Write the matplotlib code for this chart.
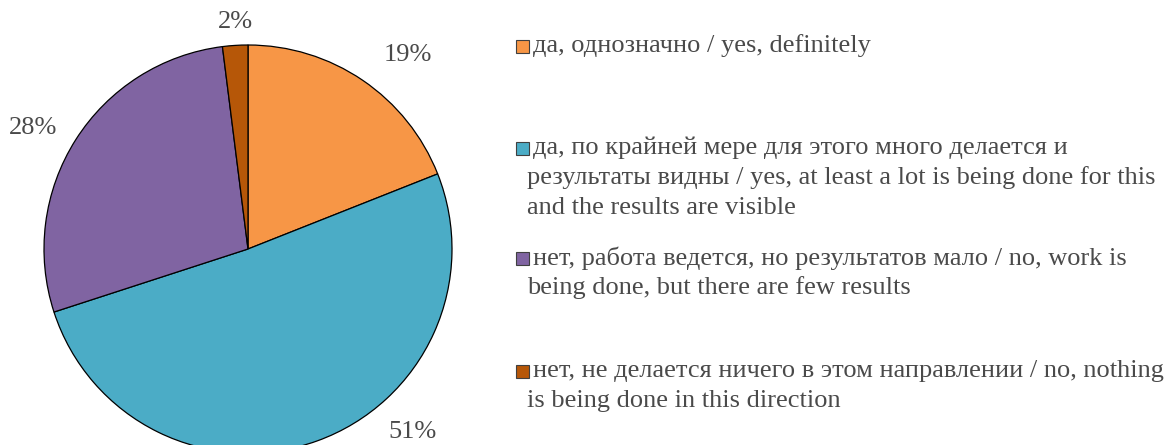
import matplotlib
matplotlib.use("Agg")
import matplotlib.pyplot as plt
from matplotlib.patches import Rectangle

plt.rcParams['font.family'] = ['Liberation Serif', 'DejaVu Serif']

# data
shares = [19, 51, 28, 2]
pct_labels = ["19%", "51%", "28%", "2%"]
colors = ["#F79646", "#4BACC6", "#8064A2", "#B65708"]
legend_items = [
    ["да, однозначно / yes, definitely"],
    ["да, по крайней мере для этого много делается и",
     "результаты видны / yes, at least a lot is being done for this",
     "and the results are visible"],
    ["нет, работа ведется, но результатов мало / no, work is",
     "being done, but there are few results"],
    ["нет, не делается ничего в этом направлении / no, nothing",
     "is being done in this direction"],
]

W, H = 1176, 445
fig = plt.figure(figsize=(W / 100, H / 100), dpi=100)
ax = fig.add_axes([0, 0, 1, 1])

txt_col = "#4a4a4a"
fs = 19

cx, cy, r = 248, H - 249, 204
wedges, _ = ax.pie(shares, colors=colors, startangle=90, counterclock=False,
                   center=(cx, cy), radius=r, frame=True,
                   wedgeprops=dict(edgecolor="black", linewidth=0.9))
ax.set_xlim(0, W)
ax.set_ylim(0, H)
ax.set_aspect("equal")
ax.axis("off")

# percentage labels (placed like Excel's outside-end labels)
label_pos = [(408, 55), (413, 432), (33, 128), (235, 22)]
for lab, (x, y) in zip(pct_labels, label_pos):
    ax.text(x, H - y, lab, ha="center", va="center", fontsize=fs, color=txt_col)

# legend
item_y = [46, 148, 258, 371]
line_h = 30
for lines, col, y0 in zip(legend_items, colors, item_y):
    ax.add_patch(Rectangle((516, H - y0 - 7), 13, 13, facecolor=col,
                           edgecolor="#404040", linewidth=0.8))
    for k, line in enumerate(lines):
        x = 533 if k == 0 else 527
        ax.text(x, H - (y0 + k * line_h), line, ha="left", va="center",
                fontsize=fs, color=txt_col)

fig.savefig("out.png", dpi=100)
